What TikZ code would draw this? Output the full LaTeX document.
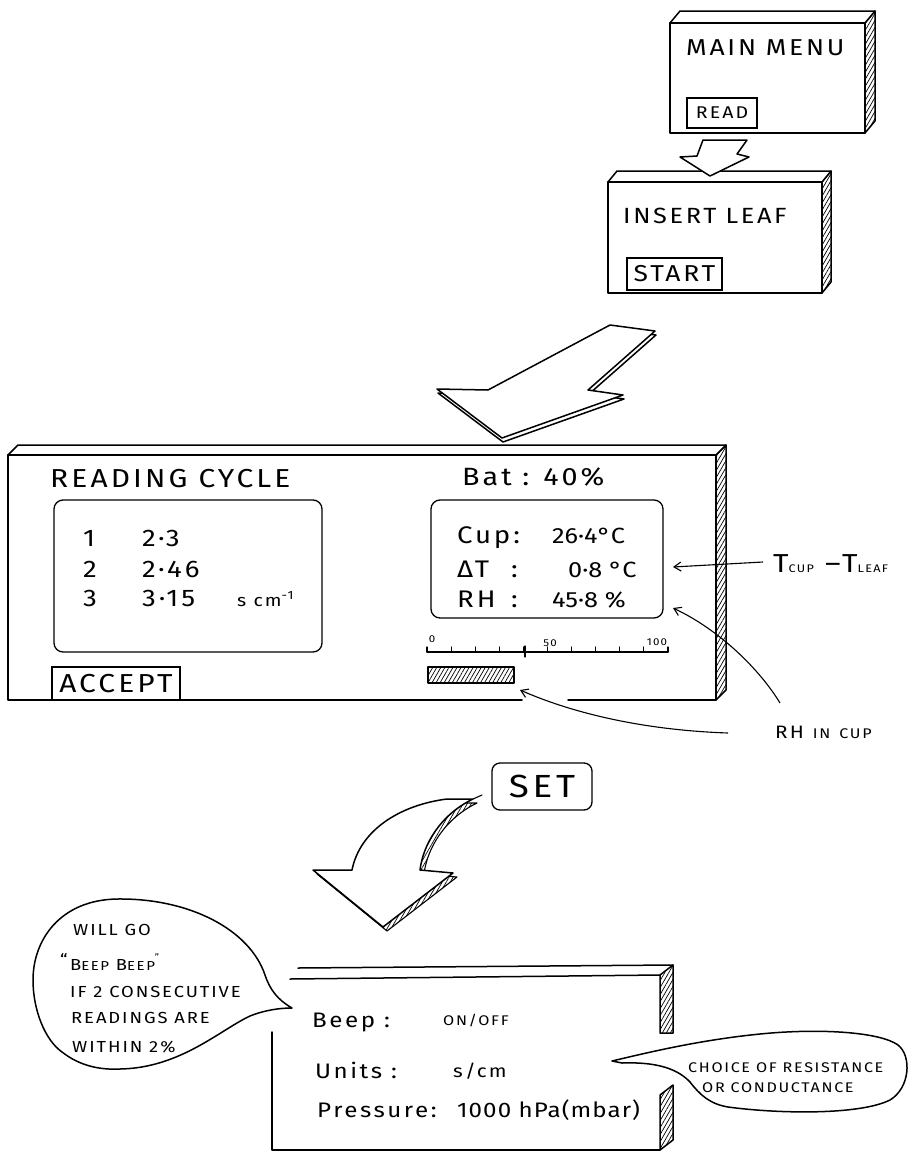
\documentclass[tikz,border=0pt]{standalone}
\usepackage{fontspec}
\setmainfont{Fira Sans}[FakeStretch=1.15,LetterSpace=12]
\usetikzlibrary{calc,arrows.meta,patterns.meta}
\newcommand\fs[1]{\fontsize{#1}{#1}\selectfont}
\newcommand\nols{\addfontfeature{LetterSpace=0}}
\newcommand\somels{\addfontfeature{LetterSpace=5}}
\newcommand\slab[6]{%
  \draw[ln,hatch] (#3,#2) -- ++(#5,#6) -- ($(#3,#4)+(#5,#6)$) -- (#3,#4) -- cycle;
  \draw[ln,fill=white] (#1,#2) -- ++(#5,#6) -- ($(#3,#2)+(#5,#6)$) -- (#3,#2) -- cycle;
  \draw[ln,fill=white] (#1,#2) rectangle (#3,#4);
}
\begin{document}
\begin{tikzpicture}[x=1pt,y=-1pt,
  ln/.style={line width=1.5pt,line join=round,line cap=round},
  thinln/.style={line width=1.1pt,line join=round,line cap=round},
  hatch/.style={pattern={Lines[angle=60,distance=3.5pt,line width=0.7pt]}},
  txt/.style={inner sep=0pt,anchor=base west},
  button/.style={draw,line width=1.2pt,inner sep=0pt},
  disp/.style={draw,line width=1.3pt,rounded corners=9pt,inner sep=0pt},
  ann/.style={line width=1.1pt,-{Straight Barb[length=7pt,width=9pt]}},
]
\useasboundingbox (0,0) rectangle (910,1151);
\fill[white] (0,0) rectangle (910,1151);

% ---------- MAIN MENU ----------
\slab{670}{23}{865}{133}{10}{-12}
\node[txt,font=\fs{23}] (mainmenu) at (686,55) {MAIN MENU};
\node[button,minimum width=70pt,minimum height=30pt,font=\fs{17}] (read) at (722,113) {READ};

% ---------- INSERT LEAF ----------
\slab{608}{182}{822}{293}{9}{-11}
\node[txt,font=\fs{22}] (insertleaf) at (623,223) {INSERT LEAF};
\node[button,minimum width=95pt,minimum height=32pt,font=\fs{23}] (start) at (674.5,274) {START};

% small arrow
\draw[ln,fill=white] (703,140) -- (747,140) -- (737,154) -- (749,157) -- (710,176) -- (680,157) -- (697,156) -- cycle;

% ---------- READING CYCLE box ----------
\draw[ln,hatch] (716,455) -- (726,445) -- (726,690) -- (716,700) -- cycle;
\draw[ln,fill=white] (8,455) -- (18,445) -- (726,445) -- (716,455) -- cycle;
\fill[white] (8,455) rectangle (716,700);
\draw[ln] (522,700) -- (8,700) -- (8,455) -- (716,455) -- (716,700) -- (568,700);

% big arrow
\draw[ln,fill=white,shift={(1,4)}] (610,325) -- (655,331) -- (588,390) -- (623,395) -- (502,438) -- (437,389) -- (488,390) -- cycle;
\draw[ln,fill=white] (610,325) -- (655,331) -- (588,390) -- (623,395) -- (502,438) -- (437,389) -- (488,390) -- cycle;

\node[txt,font=\fs{26}] (cycle) at (50,487) {READING CYCLE};
\node[disp,minimum width=268pt,minimum height=152pt] (leftdisp) at (188,576) {};
\node[txt,font=\fs{24}] (n1) at (83,546) {1};
\node[txt,font=\fs{24}] (n2) at (83,577) {2};
\node[txt,font=\fs{24}] (n3) at (83,606) {3};
\node[txt,font=\fs{24}] (v1) at (142,546) {2·3};
\node[txt,font=\fs{24}] (v2) at (142,577) {2·46};
\node[txt,font=\fs{24}] (v3) at (142,606) {3·15};
\node[txt,font=\fs{17}] (unit) at (237,606) {s cm\textsuperscript{-1}};
\node[button,minimum width=128pt,minimum height=33pt,font=\fs{26}] (accept) at (116,683.5) {ACCEPT};

\node[txt,font=\fs{25}] (bat) at (462,485) {Bat : 40\%};
\node[disp,minimum width=232pt,minimum height=118pt] (rightdisp) at (547,559) {};
\node[txt,font=\fs{24}] (cup) at (457,543) {Cup:};
\node[txt,font=\fs{24}] (dt) at (457,577) {ΔT};
\node[txt,font=\fs{24}] (rh) at (457,607) {RH};
\node[txt,font=\fs{24}] (c2) at (511,577) {:};
\node[txt,font=\fs{24}] (c3) at (511,607) {:};
\node[txt,font=\fs{22}\nols] (cupv) at (552,543) {26·4°C};
\node[txt,font=\fs{22}\nols] (dtv) at (568,577) {0·8 °C};
\node[txt,font=\fs{22}\nols] (rhv) at (552,607) {45·8 \%};

% scale
\draw[thinln] (427,652) -- (668,652);
\foreach \i in {0,...,10} \draw[thinln] ({427+24.1*\i},652) -- ({427+24.1*\i},647);
\draw[thinln] (525,646) -- (525,657);
\node[font=\fs{10},anchor=base,inner sep=0pt] (s0) at (432,642) {0};
\node[font=\fs{10},anchor=base,inner sep=0pt] (s50) at (550,646) {50};
\node[font=\fs{10},anchor=base,inner sep=0pt] (s100) at (657,645) {100};
\draw[thinln,hatch] (428,667) rectangle (514,683);

% annotations
\node[txt,font=\fs{26}] (tcup) at (773,572) {T{\fs{11}CUP} –T{\fs{11}LEAF}};
\node[txt,font=\fs{18}] (rhcup) at (775,738) {RH\hspace{9pt}{\fs{14}IN\hspace{9pt}CUP}};
\coordinate (tipA) at (673,567);
\coordinate (tipB) at (673,608);
\coordinate (tipC) at (520,690);
\draw[ann] ($(tcup.base west)+(-10,-10)$) -- (tipA);
\draw[ann] ($(rhcup.base west)+(5,-35)$) .. controls (760,670) and (720,630) .. (tipB);
\draw[ann] ($(rhcup.base west)+(-47,-5)$) .. controls (640,730) and (570,712) .. (tipC);

% ---------- SET ----------
\node[draw,line width=1.3pt,rounded corners=8pt,minimum width=100pt,minimum height=47pt,inner sep=0pt,font=\fs{32}] (set) at (542,786.5) {SET};
\draw[thinln,hatch,shift={(4,4)}] (352,870) .. controls (360,830) and (400,805) .. (447,799) -- (473,799) .. controls (440,815) and (423,845) .. (420,870) -- (453,873) -- (383,927) -- (313,870) -- cycle;
\draw[ln,fill=white] (352,870) .. controls (360,830) and (400,805) .. (447,799) -- (473,799) .. controls (440,815) and (423,845) .. (420,870) -- (453,873) -- (383,927) -- (313,870) -- cycle;
\draw[thinln] (473,799) -- (482,795);

% ---------- settings box ----------
\draw[ln,hatch] (660,975) -- (673,965) -- (673,1033) -- (660,1033) -- cycle;
\draw[ln,hatch] (660,1095) -- (673,1085) -- (673,1140) -- (660,1150) -- cycle;
\draw[ln] (298,968) -- (673,965);
\draw[ln] (290,979) -- (660,975);
\draw[ln] (272,1032) -- (272,1150) -- (660,1150);
\node[txt,font=\fs{21}] (beep) at (312,1027) {Beep :};
\node[txt,font=\fs{14}] (onoff) at (443,1025) {ON/OFF};
\node[txt,font=\fs{21}] (units) at (315,1078) {Units :};
\node[txt,font=\fs{18}] (scm) at (453,1077) {s/cm};
\node[txt,font=\fs{21}] (press) at (317,1117) {Pressure:};
\node[txt,font=\fs{21}\somels] (pval) at (457,1117) {1000 hPa(mbar)};

% bubble left
\draw[ln,fill=white] (292,1008) .. controls (278,1000) and (270,990) .. (265,975)
  .. controls (250,930) and (190,898) .. (117,899)
  .. controls (60,900) and (33,940) .. (33,980)
  .. controls (33,1010) and (45,1040) .. (62,1052)
  .. controls (80,1066) and (100,1070) .. (120,1069)
  .. controls (180,1068) and (220,1030) .. (250,1016)
  .. controls (265,1010) and (280,1008) .. (292,1008) -- cycle;
\node[txt,font=\fs{16}] (bn1) at (73,935) {WILL GO};
\node[txt,font=\fs{16}] (bn2) at (70,970) {\llap{\raisebox{5pt}{“}\,}B{\fs{13}EEP} B{\fs{13}EEP}\rlap{\raisebox{10pt}{\fs{9}”}}};
\node[txt,font=\fs{16}] (bn3) at (70,997) {IF 2 CONSECUTIVE};
\node[txt,font=\fs{16}] (bn4) at (71,1023) {READINGS ARE};
\node[txt,font=\fs{16}] (bn5) at (72,1052) {WITHIN 2\%};

% bubble right
\draw[ln,fill=white] (612,1061) .. controls (650,1052) and (700,1040) .. (760,1034)
  .. controls (820,1028) and (880,1032) .. (898,1045)
  .. controls (912,1056) and (910,1088) .. (890,1100)
  .. controls (860,1115) and (780,1114) .. (728,1107)
  .. controls (710,1104) and (700,1095) .. (690,1082)
  .. controls (675,1066) and (650,1062) .. (622,1063) -- cycle;
\node[txt,font=\fs{14}] (choice1) at (688,1072) {CHOICE OF RESISTANCE};
\node[txt,font=\fs{14}] (choice2) at (702,1092) {OR CONDUCTANCE};
\end{tikzpicture}
\end{document}
